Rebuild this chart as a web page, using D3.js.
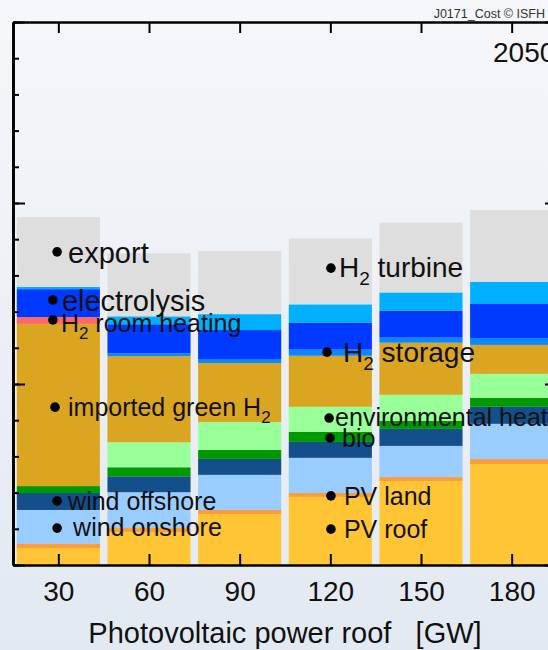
<!DOCTYPE html>
<html>
<head>
<meta charset="utf-8">
<script src="https://cdn.jsdelivr.net/npm/d3@7"></script>
<style>
  html, body { margin: 0; padding: 0; }
  svg { display: block; font-family: "Liberation Sans", Arial, sans-serif; }
</style>
</head>
<body>
<svg id="chart"></svg>
<script>
// PV roof capacity [GW]
const pvRoofGW = [30, 60, 90, 120, 150, 180];

// cost components, bottom to top
const seriesKeys = ['pvRoof', 'pvLand', 'windOnshore', 'windOffshore', 'bio', 'envHeat',
  'importedH2', 'h2RoomHeating', 'h2Storage', 'electrolysis', 'h2Turbine', 'exportCost'];
const seriesColors = ['#ffc535', '#fb9d3c', '#99ccff', '#134f8b', '#009900', '#99ff99',
  '#daa520', '#ff6666', '#0a86ff', '#0039ff', '#00b0ff', '#dedede'];

const pvRoof = [4.7, 9.1, 14.1, 18.8, 23.2, 27.9];
const pvLand = [1.1, 1.1, 1.1, 1.1, 1.1, 1.4];
const windOnshore = [9.4, 9.9, 9.7, 9.7, 8.6, 9.7];
const windOffshore = [4.7, 4.4, 4.4, 4.4, 4.7, 4.7];
const bio = [1.9, 2.5, 2.5, 2.8, 2.2, 2.5];
const envHeat = [0, 6.9, 7.7, 6.9, 7.2, 6.6];
const importedH2 = [44.8, 23.8, 16.3, 14.1, 14.4, 8.0];
const h2RoomHeating = [1.9, 0, 0, 0, 0, 0];
const h2Storage = [0, 0.8, 1.1, 1.7, 1.4, 1.9];
const electrolysis = [7.7, 8.0, 8.0, 7.5, 7.5, 9.4];
const h2Turbine = [0.6, 2.2, 4.4, 5.0, 5.0, 6.1];
const exportCost = [19.3, 17.4, 17.4, 18.2, 19.3, 19.9];

const yMinorTicks = d3.range(0, 151, 10);
const yMajorTicks = [0, 50, 100, 150];

// in-plot labels (data coords of the dot)
const labels = [
  { text: 'export', x: 29.6, y: 86.5, dx: 11, dy: 11, size: 29 },
  { text: 'electrolysis', x: 28.2, y: 73.2, dx: 9, dy: 11, size: 29 },
  { text: 'H2 room heating', x: 28.2, y: 67.7, dx: 8, dy: 12, size: 25 },
  { text: 'imported green H2', x: 28.9, y: 43.6, dx: 13, dy: 9, size: 25 },
  { text: 'wind offshore', x: 29.6, y: 17.7, dx: 11, dy: 9, size: 25 },
  { text: 'wind onshore', x: 29.6, y: 10.2, dx: 16, dy: 8, size: 25 },
  { text: 'H2 turbine', x: 120.2, y: 82.0, dx: 8, dy: 9, size: 28 },
  { text: 'H2 storage', x: 118.9, y: 58.8, dx: 16, dy: 10, size: 28 },
  { text: 'environmental heat', x: 119.6, y: 40.6, dx: 6, dy: 8, size: 25 },
  { text: 'bio', x: 119.9, y: 35.1, dx: 12, dy: 9, size: 25 },
  { text: 'PV land', x: 120.2, y: 19.1, dx: 13, dy: 9, size: 25 },
  { text: 'PV roof', x: 120.2, y: 9.9, dx: 13, dy: 9, size: 25 },
];

const width = 548, height = 650;
const frame = { left: 13, right: 557, top: 22, bottom: 565 };

const svg = d3.select('#chart').attr('width', width).attr('height', height);

// background
const grad = svg.append('defs').append('linearGradient')
  .attr('id', 'bg').attr('x1', 0).attr('y1', 0).attr('x2', 0).attr('y2', 1);
grad.append('stop').attr('offset', '0%').attr('stop-color', '#f5f7fa');
grad.append('stop').attr('offset', '100%').attr('stop-color', '#e3e9f1');
svg.append('rect').attr('width', width).attr('height', height).attr('fill', 'url(#bg)');

const x = d3.scaleLinear([15, 195], [frame.left, frame.right]);
const y = d3.scaleLinear([0, 150], [frame.bottom, frame.top]);
const barW = x(27.5) - x(0);

const seriesData = { pvRoof, pvLand, windOnshore, windOffshore, bio, envHeat, importedH2,
  h2RoomHeating, h2Storage, electrolysis, h2Turbine, exportCost };
const rows = pvRoofGW.map((gw, i) => {
  const r = { gw };
  seriesKeys.forEach((k) => (r[k] = seriesData[k][i]));
  return r;
});
const stacked = d3.stack().keys(seriesKeys)(rows);

/**
 * bars
 */
svg.append('g')
  .selectAll('g')
  .data(stacked)
  .join('g')
  .attr('fill', (d, i) => seriesColors[i])
  .selectAll('rect')
  .data((d) => d)
  .join('rect')
  .attr('x', (d) => x(d.data.gw) - barW / 2)
  .attr('width', barW)
  .attr('y', (d) => y(d[1]))
  .attr('height', (d) => y(d[0]) - y(d[1]));

/**
 * axes (ticks point inward)
 */
const styleAxis = (g) => {
  g.select('.domain').attr('stroke', '#000').attr('stroke-width', 2.6);
  g.selectAll('.tick line').attr('stroke', '#000').attr('stroke-width', 2);
};

svg.append('g').attr('transform', `translate(${frame.left},0)`)
  .call(d3.axisLeft(y).tickValues(yMinorTicks).tickSizeInner(-6).tickSizeOuter(0).tickFormat(''))
  .call(styleAxis);
svg.append('g').attr('transform', `translate(${frame.left},0)`)
  .call(d3.axisLeft(y).tickValues(yMajorTicks).tickSizeInner(-12).tickSizeOuter(0).tickFormat(''))
  .call(styleAxis);
svg.append('g').attr('transform', `translate(${frame.right},0)`)
  .call(d3.axisRight(y).tickValues(yMinorTicks).tickSizeInner(-6).tickSizeOuter(0).tickFormat(''))
  .call(styleAxis);
svg.append('g').attr('transform', `translate(${frame.right},0)`)
  .call(d3.axisRight(y).tickValues(yMajorTicks).tickSizeInner(-12).tickSizeOuter(0).tickFormat(''))
  .call(styleAxis);
svg.append('g').attr('transform', `translate(0,${frame.top})`)
  .call(d3.axisTop(x).tickValues(pvRoofGW).tickSizeInner(-11).tickSizeOuter(0).tickFormat(''))
  .call(styleAxis);
svg.append('g').attr('transform', `translate(0,${frame.bottom})`)
  .call(d3.axisBottom(x).tickValues(pvRoofGW).tickSizeInner(-11).tickSizeOuter(0).tickPadding(16))
  .call(styleAxis)
  .call((g) => g.selectAll('.tick text')
    .attr('font-size', 28).attr('font-family', '"Liberation Sans", Arial, sans-serif').attr('fill', '#111'));

svg.append('text')
  .attr('x', (x(30) + x(180)) / 2)
  .attr('y', 643)
  .attr('text-anchor', 'middle')
  .attr('font-size', 29)
  .attr('fill', '#111')
  .attr('xml:space', 'preserve')
  .style('white-space', 'pre')
  .text('Photovoltaic power roof   [GW]');

svg.append('text').attr('x', 493).attr('y', 62).attr('font-size', 28).attr('fill', '#111').text('2050');
svg.append('text').attr('x', 545).attr('y', 18).attr('text-anchor', 'end')
  .attr('font-size', 12.5).attr('fill', '#333').text('J0171_Cost © ISFH');

/**
 * labels with dots; "H2" gets a subscript
 */
const lab = svg.append('g');
labels.forEach((l) => {
  const cx = x(l.x), cy = y(l.y);
  lab.append('circle').attr('cx', cx).attr('cy', cy).attr('r', 4.8).attr('fill', '#000');
  const t = lab.append('text').attr('x', cx + l.dx).attr('y', cy + l.dy)
    .attr('font-size', l.size).attr('fill', '#111');
  const parts = l.text.split('H2');
  parts.forEach((p, i) => {
    if (i > 0) {
      t.append('tspan').text('H');
      t.append('tspan').attr('font-size', l.size * 0.68).attr('dy', l.size * 0.28).text('2');
      t.append('tspan').attr('dy', -l.size * 0.28).text(p);
    } else if (p) {
      t.append('tspan').text(p);
    }
  });
});
</script>
</body>
</html>
